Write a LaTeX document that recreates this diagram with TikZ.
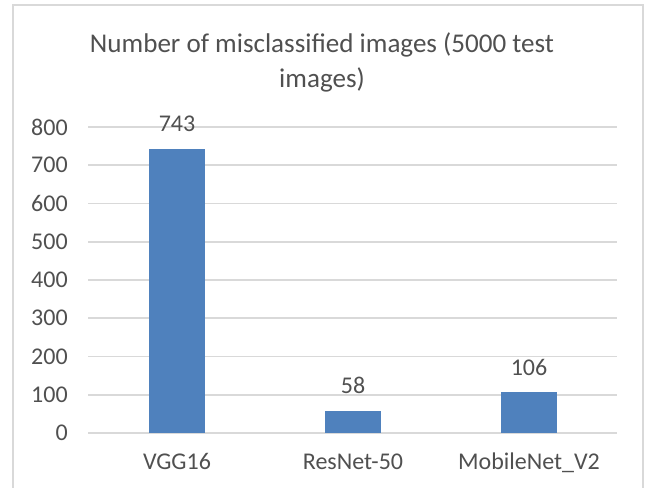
\documentclass[tikz,border=0pt]{standalone}
\usepackage{fontspec}
\setmainfont{Carlito}
\usetikzlibrary{positioning}
\definecolor{ChartBlue}{HTML}{4F81BD}
\definecolor{ChartGrid}{HTML}{D9D9D9}
\definecolor{ChartText}{HTML}{505050}

\begin{document}
\begin{tikzpicture}[x=0.75pt,y=0.75pt,
 gridline/.style={draw=ChartGrid,line width=1.4pt},
 barbox/.style={fill=ChartBlue,draw=none},
 ylab/.style={anchor=east,inner sep=0pt,text=ChartText,font=\fontsize{18}{22}\selectfont},
 vallab/.style={inner sep=0pt,text=ChartText,font=\fontsize{18}{22}\selectfont},
 catlab/.style={anchor=base,inner sep=0pt,text=ChartText,font=\fontsize{18}{22}\selectfont},
 titlelab/.style={anchor=base,inner sep=0pt,text=ChartText,font=\fontsize{20.3}{25}\selectfont}]
\useasboundingbox (0,0) rectangle (646,488);
% chart frame
\draw[draw=ChartGrid,line width=1.4pt] (13,-2) -- (13,483) -- (643,483) -- (643,-2);
% title
\node[titlelab] (title) at (322,435) {Number of misclassified images (5000 test};
\node[titlelab] (title2) at (322,400) {images)};
% grid and axis labels
\foreach \v in {0,100,...,800} {
  \draw[gridline] (88,55+0.3825*\v) -- (617,55+0.3825*\v);
  \node[ylab] (y\v) at (68,55+0.3825*\v) {\v};
}
% bars with values
\foreach \x/\v/\n in {177/743/vgg,353/58/resnet,529/106/mobile} {
  \fill[barbox] (\x-28,55) rectangle (\x+28,55+0.3825*\v);
  \node[vallab] (v\n) at (\x,80+0.3825*\v) {\v};
}
\node[catlab] (cvgg) at (177,18) {VGG16};
\node[catlab] (cresnet) at (353,18) {ResNet-50};
\node[catlab] (cmobile) at (529,18) {MobileNet\_V2};
\end{tikzpicture}
\end{document}
